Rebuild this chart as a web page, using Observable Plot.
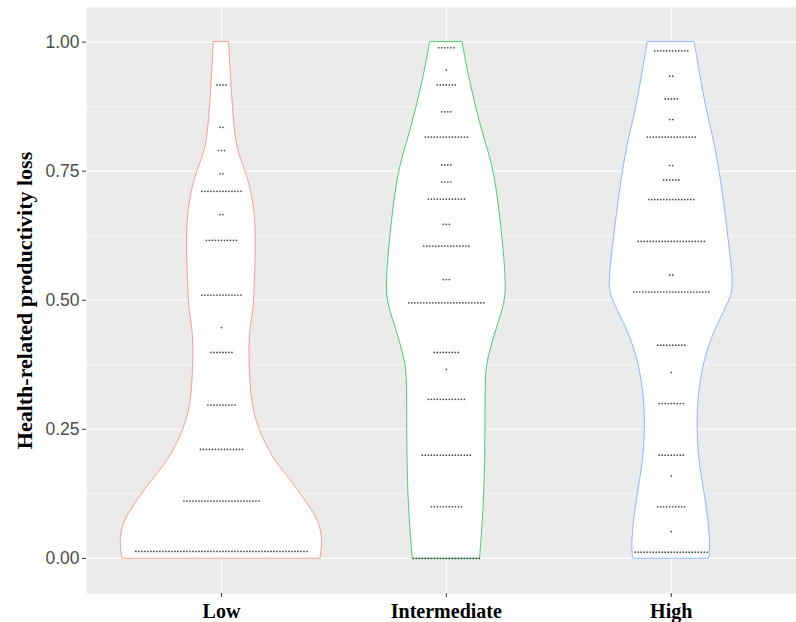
<!DOCTYPE html>
<html>
<head>
<meta charset="utf-8">
<script src="https://cdn.jsdelivr.net/npm/d3@7"></script>
<script src="https://cdn.jsdelivr.net/npm/@observablehq/plot@0.6"></script>
<style>
  html, body { margin: 0; padding: 0; background: #fff; }
  #chart svg { display: block; }
</style>
</head>
<body>
<div id="chart"></div>
<script>
// Groups and their violin outline colours
const groups = ["Low", "Intermediate", "High"];
const outlineColors = ["#F8766D", "#00BA38", "#619CFF"];

// Y tick labels
const yMajorTicks = [0, 0.25, 0.5, 0.75, 1];
const yMinorTicks = [0.125, 0.375, 0.625, 0.875];

// Violin density profiles: value and half-width (in category units)
const lowProfileValue = [0.000, 0.021, 0.047, 0.079, 0.111, 0.151, 0.176, 0.211, 0.254, 0.297, 0.344, 0.399, 0.447, 0.480, 0.510, 0.563, 0.616, 0.666, 0.711, 0.746, 0.790, 0.835, 0.918, 1.000];
const lowProfileHalf  = [0.440, 0.448, 0.448, 0.426, 0.374, 0.311, 0.259, 0.208, 0.163, 0.137, 0.128, 0.123, 0.128, 0.143, 0.146, 0.151, 0.154, 0.150, 0.133, 0.111, 0.071, 0.057, 0.044, 0.034];

const midProfileValue = [0.000, 0.047, 0.100, 0.200, 0.308, 0.366, 0.399, 0.448, 0.499, 0.540, 0.605, 0.696, 0.762, 0.816, 0.865, 0.947, 1.000];
const midProfileHalf  = [0.150, 0.158, 0.167, 0.174, 0.174, 0.176, 0.193, 0.226, 0.265, 0.265, 0.254, 0.231, 0.206, 0.167, 0.137, 0.093, 0.072];

const highProfileValue = [0.000, 0.012, 0.052, 0.100, 0.160, 0.200, 0.251, 0.300, 0.360, 0.413, 0.461, 0.490, 0.516, 0.549, 0.614, 0.695, 0.761, 0.816, 0.850, 0.890, 0.934, 1.000];
const highProfileHalf  = [0.168, 0.174, 0.171, 0.158, 0.135, 0.122, 0.116, 0.118, 0.135, 0.167, 0.215, 0.250, 0.274, 0.274, 0.256, 0.234, 0.211, 0.187, 0.167, 0.148, 0.130, 0.104];

// Dot-plot rows: binned value and number of observations in the bin
const lowRowValue = [0.0135, 0.111, 0.211, 0.297, 0.399, 0.447, 0.510, 0.616, 0.666, 0.711, 0.745, 0.790, 0.835, 0.917];
const lowRowCount = [58, 26, 15, 10, 8, 1, 14, 11, 2, 14, 2, 3, 2, 4];

const midRowValue = [0.000, 0.100, 0.200, 0.308, 0.366, 0.399, 0.495, 0.540, 0.605, 0.647, 0.696, 0.729, 0.762, 0.816, 0.865, 0.917, 0.946, 0.989];
const midRowCount = [23, 11, 17, 13, 1, 9, 26, 3, 16, 3, 13, 4, 4, 15, 4, 7, 1, 6];

const highRowValue = [0.012, 0.052, 0.100, 0.160, 0.200, 0.300, 0.360, 0.413, 0.516, 0.549, 0.614, 0.695, 0.733, 0.761, 0.816, 0.850, 0.890, 0.934, 0.983];
const highRowCount = [25, 1, 10, 1, 9, 9, 1, 10, 26, 2, 23, 16, 6, 2, 17, 2, 5, 2, 12];

// Assemble tables for the marks
const profiles = [
  [lowProfileValue, lowProfileHalf],
  [midProfileValue, midProfileHalf],
  [highProfileValue, highProfileHalf]
].map(([vals, halves], g) =>
  vals.map((v, i) => ({group: g, center: g + 1, value: v, half: halves[i]}))
);

const dotStep = 0.01335; // horizontal stacking step between dots, in category units
const rows = [
  [lowRowValue, lowRowCount],
  [midRowValue, midRowCount],
  [highRowValue, highRowCount]
];
const dots = [];
rows.forEach(([vals, counts], g) => {
  vals.forEach((v, i) => {
    const n = counts[i];
    for (let k = 0; k < n; k++) {
      dots.push({group: g, value: v, pos: g + 1 + (k - (n - 1) / 2) * dotStep});
    }
  });
});

const serif = "'Liberation Serif', 'Times New Roman', serif";
const sans = "'Liberation Sans', Arial, sans-serif";

const chart = Plot.plot({
  width: 796,
  height: 622,
  marginLeft: 86,
  marginRight: 0,
  marginTop: 7,
  marginBottom: 29,
  style: {fontFamily: sans, background: "#fff"},
  x: {domain: [0.4, 3.557], axis: null},
  y: {domain: [-0.068, 1.067], axis: null},
  marks: [
    Plot.frame({fill: "#EBEBEB", stroke: null}),
    Plot.ruleY(yMinorTicks, {stroke: "#fff", strokeWidth: 0.55}),
    Plot.ruleY(yMajorTicks, {stroke: "#fff", strokeWidth: 1.1}),
    Plot.ruleX([1, 2, 3], {stroke: "#fff", strokeWidth: 1.1}),
    ...profiles.map((p, g) => Plot.areaX(p, {
      y: "value",
      x1: d => d.center - d.half,
      x2: d => d.center + d.half,
      fill: "#fff",
      stroke: outlineColors[g],
      strokeWidth: 0.7,
      curve: "basis"
    })),
    Plot.dot(dots, {x: "pos", y: "value", r: 0.85, fill: "#444", stroke: null}),
    Plot.axisY({
      ticks: yMajorTicks,
      tickFormat: d3.format(".2f"),
      tickSize: 4,
      tickPadding: 3,
      stroke: "#333",
      fill: "#4D4D4D",
      fontSize: 17.5,
      fontFamily: sans,
      label: null
    }),
    Plot.axisX({
      ticks: [1, 2, 3],
      tickFormat: d => groups[d - 1],
      tickSize: 4,
      tickPadding: 6,
      stroke: "#333",
      fill: "#000",
      fontSize: 20,
      fontWeight: "bold",
      fontFamily: serif,
      label: null
    }),
    Plot.text(["Health-related productivity loss"], {
      frameAnchor: "left",
      textAnchor: "middle",
      dx: -62,
      rotate: -90,
      fontSize: 22,
      fontWeight: "bold",
      fontFamily: serif,
      fill: "#000"
    })
  ]
});

document.getElementById("chart").appendChild(chart);
</script>
</body>
</html>
